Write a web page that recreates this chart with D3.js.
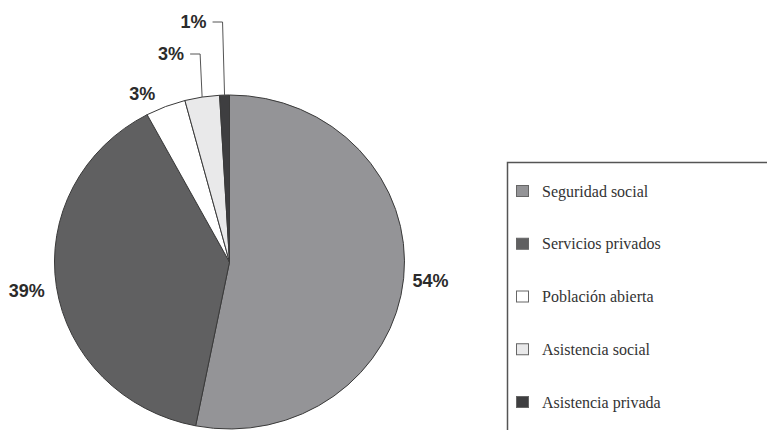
<!DOCTYPE html>
<html><head><meta charset="utf-8">
<script src="https://cdn.jsdelivr.net/npm/d3@7"></script>
<style>body{margin:0;background:#fff}svg{display:block}</style>
</head><body><svg id="c" width="767" height="430"></svg>
<script>
const categories = ["Seguridad social","Servicios privados","Población abierta","Asistencia social","Asistencia privada"];
const values = [53.1, 39.1, 3.7, 3.2, 0.9];
const valueLabels = ["54%","39%","3%","3%","1%"];
const colors = ["#949497","#606061","#ffffff","#e9e9ea","#3e3e40"];

const svg = d3.select("#c");
const cx = 229.5, cy = 262, R = 175, sy = 167/175;

const pie = d3.pie().sort(null).value(d => d)(values);
const arc = d3.arc().innerRadius(0).outerRadius(R);

const g = svg.append("g").attr("transform", `translate(${cx},${cy}) scale(1,${sy})`);
g.selectAll("path").data(pie).join("path")
  .attr("d", arc)
  .attr("fill", (d,i) => colors[i])
  .attr("stroke", "#3a3a3a")
  .attr("stroke-width", 1)
  .attr("vector-effect", "non-scaling-stroke");

function pt(angle, r){ return [cx + Math.sin(angle)*r, cy - Math.cos(angle)*r*sy]; }

const lbl = svg.append("g").attr("font-family","Liberation Sans, Arial, sans-serif")
  .attr("font-weight","bold").attr("font-size",18).attr("fill","#2b2b2b");

const leaderY = [null, null, null, 54, 22];
pie.forEach((d,i) => {
  const mid = (d.startAngle + d.endAngle)/2;
  if (leaderY[i] === null) {
    let [x,y] = pt(mid, 205);
    if (i === 0) x -= 3;
    if (i === 2) { [x,y] = pt(mid, 195); x -= 16; y += 5; }
    lbl.append("text").attr("x", x).attr("y", y).attr("dy","0.35em")
      .attr("text-anchor","middle").text(valueLabels[i]);
  } else {
    const [x0,y0] = pt(mid, R);
    const ex = x0 - 2, ey = leaderY[i];
    svg.append("polyline")
      .attr("points", `${x0},${y0} ${ex},${ey} ${ex-10},${ey}`)
      .attr("fill","none").attr("stroke","#555").attr("stroke-width",1);
    lbl.append("text").attr("x", ex-16).attr("y", ey).attr("dy","0.35em")
      .attr("text-anchor","end").text(valueLabels[i]);
  }
});

// legend
const leg = svg.append("g");
leg.append("path").attr("d","M767,162.5 H507.5 V430")
  .attr("fill","none").attr("stroke","#555").attr("stroke-width",1.5);
const ly = d3.scalePoint().domain(categories).range([191, 402]);
const item = leg.selectAll("g.it").data(categories).join("g").attr("class","it")
  .attr("transform", d => `translate(516,${ly(d)})`);
item.append("rect").attr("x",0.5).attr("y",-5.5).attr("width",12).attr("height",11)
  .attr("fill",(d,i)=>colors[i]).attr("stroke","#666").attr("stroke-width",1);
item.append("text").attr("x",26).attr("y",0).attr("dy","0.35em")
  .attr("font-family","Liberation Serif, Times New Roman, serif").attr("font-size",16)
  .attr("fill","#333").text(d=>d);
</script></body></html>
